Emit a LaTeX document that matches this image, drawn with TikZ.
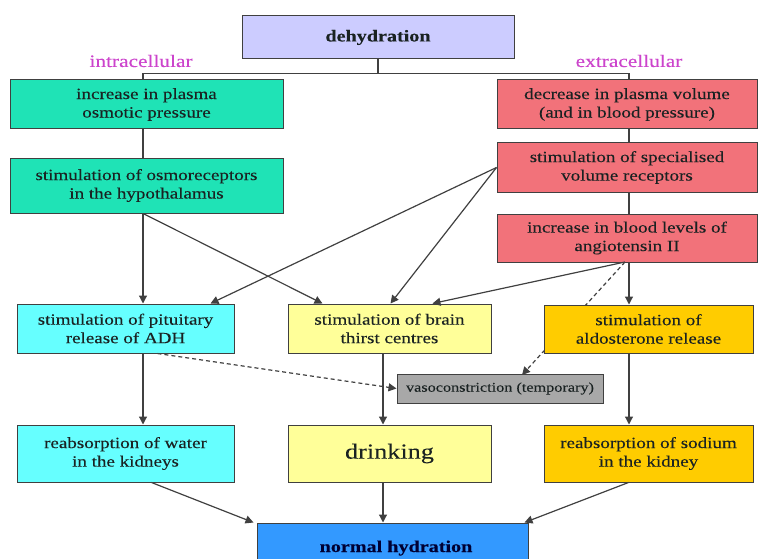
\documentclass[tikz,border=0pt]{standalone}
\usepackage{fontspec}
\setmainfont[FakeStretch=1.22,FakeBold=0.12]{Liberation Serif}
\usetikzlibrary{arrows.meta,calc}
\definecolor{lav}{HTML}{CCCCFF}
\definecolor{turq}{HTML}{1FE3B6}
\definecolor{salmon}{HTML}{F2727A}
\definecolor{aqua}{HTML}{66FFFF}
\definecolor{lyellow}{HTML}{FFFF99}
\definecolor{gold}{HTML}{FFCC00}
\definecolor{grey}{HTML}{A8A8A8}
\definecolor{bblue}{HTML}{3399FF}
\definecolor{edge}{HTML}{404040}
\definecolor{txt}{HTML}{1A2222}
\definecolor{lbl}{HTML}{CC44CC}
\tikzset{
  box/.style={draw=edge, line width=1pt, align=center, text=txt, inner sep=0pt,
    font=\fontsize{15.6}{18.5}\selectfont},
  link/.style={draw=edge, line width=1.2pt},
  arr/.style={link, -{Triangle[width=8pt,length=8pt]}},
  darr/.style={arr, dash pattern=on 4pt off 3pt},
  side/.style={text=lbl, font=\fontsize{17.5}{19}\selectfont}
}
\begin{document}
\begin{tikzpicture}[x=1pt,y=-1pt]
\useasboundingbox (0,0) rectangle (760,559);
\clip (0,0) rectangle (760,559);

% dashed line behind aldosterone box (drawn first)
\coordinate (r3s) at (625,262);
\coordinate (vtop) at (522,375);
\draw[darr] (r3s) -- (vtop);

% boxes
\node[box, fill=lav, minimum width=272, minimum height=43,
  font=\bfseries\fontsize{16.5}{19}\selectfont] (deh) at (378,37.5) {dehydration};
\node[side] (intra) at (141,61) {intracellular};
\node[side] (extra) at (629,61) {extracellular};

\node[box, fill=turq, minimum width=273, minimum height=49] (g1) at (146.5,104.5)
  {increase in plasma\\osmotic pressure};
\node[box, fill=turq, minimum width=273, minimum height=55] (g2) at (146.5,185.5)
  {stimulation of osmoreceptors\\in the hypothalamus};

\node[box, fill=salmon, minimum width=260, minimum height=49] (r1) at (627,104.5)
  {decrease in plasma volume\\(and in blood pressure)};
\node[box, fill=salmon, minimum width=260, minimum height=49] (r2) at (627,167.5)
  {stimulation of specialised\\volume receptors};
\node[box, fill=salmon, minimum width=260, minimum height=48] (r3) at (627,238)
  {increase in blood levels of\\angiotensin II};

\node[box, fill=aqua, minimum width=217, minimum height=49] (adh) at (125.5,328.5)
  {stimulation of pituitary\\release of ADH};
\node[box, fill=lyellow, minimum width=203, minimum height=49] (brain) at (389.5,328.5)
  {stimulation of brain\\thirst centres};
\node[box, fill=gold, minimum width=209, minimum height=48] (ald) at (648.5,329)
  {stimulation of\\aldosterone release};
\node[box, fill=grey, minimum width=206, minimum height=29,
  font=\fontsize{13.3}{15}\selectfont] (vaso) at (500,388.5)
  {vasoconstriction (temporary)};

\node[box, fill=aqua, minimum width=217, minimum height=57] (water) at (125.5,453.5)
  {reabsorption of water\\in the kidneys};
\node[box, fill=lyellow, minimum width=203, minimum height=57,
  font=\fontsize{21.5}{24}\selectfont] (drink) at (389.5,453.5) {drinking};
\node[box, fill=gold, minimum width=209, minimum height=57] (sod) at (648.5,453.5)
  {reabsorption of sodium\\in the kidney};

\node[box, fill=bblue, minimum width=271, minimum height=54] (norm) at (392.5,550) {};
\node[text=black!80!blue, font=\bfseries\fontsize{16.5}{19}\selectfont, anchor=base]
  (normtxt) at (396,552) {normal hydration};

% top split
\coordinate (split) at ($(deh.south)+(0,14)$);
\draw[link] (deh.south) -- (split);
\draw[link] ($(g1.north)+(-3.5,0)$) |- (split) -| ($(r1.north)+(2,0)$);

% vertical plain links
\draw[link] ($(g1.south)+(-3.5,0)$) -- ($(g2.north)+(-3.5,0)$);
\draw[link] ($(r1.south)+(2,0)$) -- ($(r2.north)+(2,0)$);
\draw[link] ($(r2.south)+(2,0)$) -- ($(r3.north)+(2,0)$);

% from osmoreceptors
\coordinate (g2s) at ($(g2.south)+(-3.5,0)$);
\draw[arr] (g2s) -- (g2s |- adh.north);
\draw[arr] (g2s) -- ($(brain.north west)+(35,0)$);

% from volume receptors
\draw[arr] (r2.west) -- ($(adh.north east)+(-24,0)$);
\draw[arr] (r2.west) -- ($(brain.north)+(1,0)$);

% from angiotensin
\draw[arr] (r3s) -- ($(brain.north)+(43,0)$);
\coordinate (r3c) at ($(r3.south)+(2,0)$);
\draw[arr] (r3c) -- (r3c |- ald.north);

% dashed from ADH
\draw[darr] ($(adh.south)+(32,0)$) -- (vaso.west);

% row 3 to row 4
\draw[arr] (g2s |- adh.south) -- (g2s |- water.north);
\coordinate (bx) at ($(brain.south)+(-6.5,0)$);
\draw[arr] (bx) -- (bx |- drink.north);
\draw[arr] (r3c |- ald.south) -- (r3c |- sod.north);

% to normal hydration
\draw[arr] ($(water.south)+(26,0)$) -- ($(norm.north west)+(-3,0)$);
\draw[arr] (bx |- drink.south) -- (bx |- norm.north);
\draw[arr] ($(sod.south)+(-20,0)$) -- ($(norm.north east)+(-4,0)$);
\end{tikzpicture}
\end{document}
